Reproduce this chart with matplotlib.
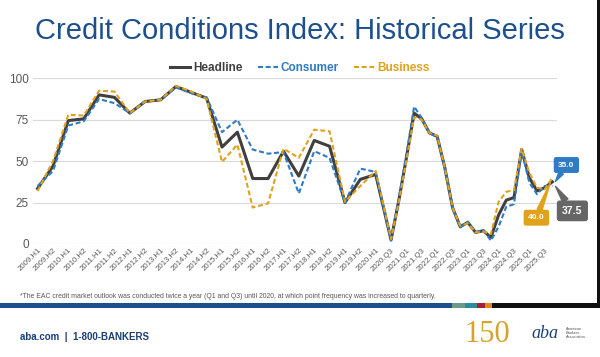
import matplotlib.pyplot as plt
from matplotlib.patches import Rectangle
from matplotlib.lines import Line2D

plt.rcParams['font.family'] = ['Liberation Sans', 'DejaVu Sans']

# survey periods: twice a year until 2020, quarterly afterwards
periods = ['2009.H1', '2009.H2', '2010.H1', '2010.H2', '2011.H1', '2011.H2',
           '2012.H1', '2012.H2', '2013.H1', '2013.H2', '2014.H1', '2014.H2',
           '2015.H1', '2015.H2', '2016.H1', '2016.H2', '2017.H1', '2017.H2',
           '2018.H1', '2018.H2', '2019.H1', '2019.H2', '2020.H1',
           '2020.Q3', '2020.Q4', '2021.Q1', '2021.Q2', '2021.Q3', '2021.Q4',
           '2022.Q1', '2022.Q2', '2022.Q3', '2022.Q4', '2023.Q1', '2023.Q2',
           '2023.Q3', '2023.Q4', '2024.Q1', '2024.Q2', '2024.Q3', '2024.Q4',
           '2025.Q1', '2025.Q2', '2025.Q3', '2025.Q4']
headline = [33.5, 47, 74.5, 75.5, 90, 88.5, 79, 86, 87, 95, 91.5, 88,
            58.5, 67.5, 39.5, 39.5, 56, 41, 62.5, 59, 25, 39, 42,
            2.5, 26, 52, 79, 75.5, 67, 65, 46, 22, 10.5, 13, 7, 8, 4,
            17.5, 26.5, 28, 57, 40, 32, 34, 37.5]
consumer = [35, 44, 71.5, 74, 87.5, 85, 79, 86, 87, 94.5, 91, 88.5,
            67.5, 75, 57, 54.5, 55.5, 30.5, 56, 52, 25, 45.5, 43.5,
            2, 27, 54, 83, 76, 67, 64.5, 46, 22, 10, 13.5, 7, 8.5, 2,
            10.5, 22.5, 24, 56, 37, 30, 35, 35]
business = [32, 50, 78, 77.5, 92.5, 92, 79, 86, 87, 95.5, 92, 87.5,
            49.5, 60, 22, 24.5, 57.5, 52, 69, 68, 25.5, 35, 44,
            3, 25, 50, 76.5, 75, 67, 65.5, 46, 22, 11, 12.5, 7, 7.5, 6,
            25.5, 31.5, 32.5, 57.5, 43, 34, 33, 40]
tick_labels = ['2009.H1', '2009.H2', '2010.H1', '2010.H2', '2011.H1', '2011.H2',
               '2012.H1', '2012.H2', '2013.H1', '2013.H2', '2014.H1', '2014.H2',
               '2015.H1', '2015.H2', '2016.H1', '2016.H2', '2017.H1', '2017.H2',
               '2018.H1', '2018.H2', '2019.H1', '2019.H2', '2020.H1',
               '2020.Q3', '2021.Q1', '2021.Q3', '2022.Q1', '2022.Q3', '2023.Q1',
               '2023.Q3', '2024.Q1', '2024.Q3', '2025.Q1', '2025.Q3']
y_ticks = [0, 25, 50, 75, 100]

C_HEAD = '#404040'
C_CONS = '#2f7bc4'
C_BUS = '#e0a21c'
NAVY = '#1c4f8c'


def quarter_pos(p):
    # H1 -> Q1, H2 -> Q3, counted in quarters from 2009.Q1
    year, part = p.split('.')
    offset = {'H1': 0, 'H2': 2, 'Q1': 0, 'Q2': 1, 'Q3': 2, 'Q4': 3}[part]
    return (int(year) - 2009) * 4 + offset


x = [quarter_pos(p) for p in periods]
tick_pos = [quarter_pos(t) for t in tick_labels]

fig = plt.figure(figsize=(6, 3.57), dpi=100)
ax = fig.add_axes([33 / 600, 113 / 357, 524 / 600, 165.7 / 357])

ax.plot(x, headline, color=C_HEAD, lw=2.2, solid_joinstyle='round', clip_on=False, zorder=3)
ax.plot(x, consumer, color=C_CONS, lw=1.5, dashes=(2.4, 1.3), clip_on=False, zorder=4)
ax.plot(x, business, color=C_BUS, lw=1.5, dashes=(2.4, 1.3), clip_on=False, zorder=5)

ax.set_xlim(-0.6, 67.6)
ax.set_ylim(0, 100)
ax.set_yticks(y_ticks)
ax.set_xticks(tick_pos)
ax.set_xticklabels(tick_labels, rotation=45, ha='right', rotation_mode='anchor',
                   fontsize=5.6, color='#595959')
ax.tick_params(axis='y', labelsize=8.5, labelcolor='#595959', length=0, pad=3)
ax.tick_params(axis='x', length=0, pad=2)
ax.grid(axis='y', color='#d9d9d9', lw=0.8)
ax.set_axisbelow(True)
for s in ax.spines.values():
    s.set_visible(False)

# value callouts at the last point
last = x[-1]
callouts = [(consumer[-1], C_CONS, (14, 21), 6),
            (headline[-1], '#666666', (20, -29), 7.5),
            (business[-1], C_BUS, (-16, -40), 6)]
for val, col, off, fs in callouts:
    ax.annotate(f'{val:.1f}', xy=(last, val), xytext=off, textcoords='offset pixels',
                ha='center', va='center', color='white', fontsize=fs, fontweight='bold',
                bbox=dict(boxstyle='round,pad=0.45,rounding_size=0.2', fc=col, ec=col),
                arrowprops=dict(arrowstyle='wedge,tail_width=0.6,shrink_factor=0.5',
                                fc=col, ec=col, shrinkA=0, shrinkB=4),
                annotation_clip=False, zorder=6)

fig.text(0.5, 1 - 31 / 357, 'Credit Conditions Index: Historical Series',
         ha='center', va='center', fontsize=21, color=NAVY)

handles = [Line2D([0], [0], color=C_HEAD, lw=2.2),
           Line2D([0], [0], color=C_CONS, lw=1.5, dashes=(2.4, 1.3)),
           Line2D([0], [0], color=C_BUS, lw=1.5, dashes=(2.4, 1.3))]
leg = fig.legend(handles, ['Headline', 'Consumer', 'Business'], loc='center',
                 bbox_to_anchor=(0.5, 1 - 68 / 357), ncol=3, frameon=False,
                 prop={'weight': 'bold', 'size': 8.5}, handlelength=1.7,
                 handletextpad=0.25, columnspacing=1.3)
for txt, col in zip(leg.get_texts(), [C_HEAD, C_CONS, C_BUS]):
    txt.set_color(col)

fig.text(20 / 600, 1 - 297 / 357,
         '*The EAC credit market outlook was conducted twice a year (Q1 and Q3) until 2020, '
         'at which point frequency was increased to quarterly.',
         ha='left', va='center', fontsize=4.95, color='#595959')

# footer band
band = [(0, 452, '#1f4e8c'), (452, 465, '#6f9a8a'), (465, 477, '#2a8c9c'),
        (477, 485, '#a3203a'), (485, 492, '#e08a1c'), (492, 600, '#111111')]
for x0, x1, col in band:
    fig.add_artist(Rectangle((x0 / 600, 1 - 308 / 357), (x1 - x0) / 600, 5 / 357,
                             transform=fig.transFigure, fc=col, ec='none'))
fig.add_artist(Rectangle((597 / 600, 1 - 308 / 357), 3 / 600, 308 / 357,
                         transform=fig.transFigure, fc='#111111', ec='none'))

fig.text(20 / 600, 1 - 337 / 357, 'aba.com  |  1-800-BANKERS', ha='left', va='center',
         fontsize=7, fontweight='bold', color='#1b3f73')
fig.text(487 / 600, 1 - 335 / 357, '150', ha='center', va='center', fontsize=22,
         color='#d4a52a', family=['Liberation Serif', 'DejaVu Serif'])
fig.text(545 / 600, 1 - 333 / 357, 'aba', ha='center', va='center', fontsize=13,
         color='#1b3f73', family=['Liberation Serif', 'DejaVu Serif'], style='italic')
fig.text(566 / 600, 1 - 333 / 357, 'American\nBankers\nAssociation.', ha='left',
         va='center', fontsize=2.8, color='#555555', linespacing=1.1)

fig.savefig('out.png', dpi=100)
